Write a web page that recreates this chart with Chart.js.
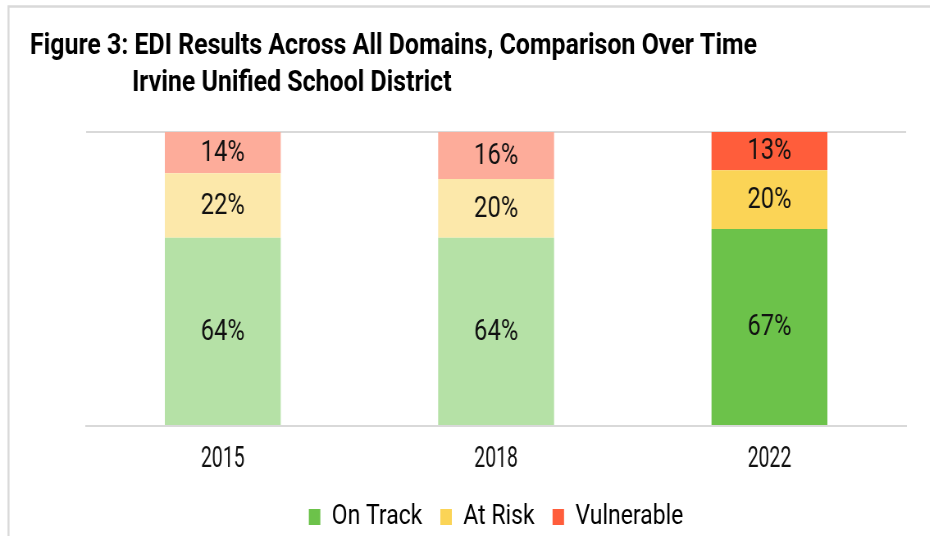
<!DOCTYPE html>
<html>
<head>
<meta charset="utf-8">
<script src="https://cdn.jsdelivr.net/npm/chart.js@4.4.1/dist/chart.umd.min.js"></script>
<style>
  html, body { margin: 0; padding: 0; background: #fff; overflow: hidden; }
  #wrap { width: 1134px; height: 536px; transform: scaleX(0.82); transform-origin: 0 0; }
</style>
</head>
<body>
<div id="wrap"><canvas id="myChart" width="1134" height="536"></canvas></div>
<script>
// squeeze factor, gives the condensed look of the original
const SX = 0.82;

const titleLines = [
    "Figure 3: EDI Results Across All Domains, Comparison Over Time",
    "Irvine Unified School District",
];
const categories = ["2015", "2018", "2022"];
const seriesNames = ["On Track", "At Risk", "Vulnerable"];
const onTrack = [64, 64, 67];
const atRisk = [22, 20, 20];
const vulnerable = [14, 16, 13];

// older years are drawn in paler tones
const greens = ["#b5e1a6", "#b5e1a6", "#6cc24a"];
const yellows = ["#fce8aa", "#fce8aa", "#fbd456"];
const reds = ["#fdac9a", "#fdac9a", "#ff5d3b"];

Chart.defaults.font.family = "Roboto";
Chart.defaults.color = "#000000";

const frameAndTitle = {
    id: "frameAndTitle",
    beforeDraw(chart) {
        const c = chart.ctx;
        const w = chart.width, h = chart.height;
        c.save();
        c.fillStyle = "#ffffff";
        c.fillRect(0, 0, w, h);
        c.strokeStyle = "#d9d9d9";
        c.lineWidth = 2.4;
        c.beginPath();
        c.moveTo(8.5 / SX, h);
        c.lineTo(8.5 / SX, 6.5);
        c.lineTo(w, 6.5);
        c.stroke();

        c.fillStyle = "#000000";
        c.font = "bold 29px Roboto";
        c.textBaseline = "alphabetic";
        const k = (727 / SX) / c.measureText(titleLines[0]).width;
        c.save();
        c.translate(30 / SX, 53.5);
        c.scale(k, 1);
        c.fillText(titleLines[0], 0, 0);
        c.restore();
        c.save();
        c.translate(132 / SX, 90.5);
        c.scale(k, 1);
        c.fillText(titleLines[1], 0, 0);
        c.restore();
        c.restore();
    },
};

const labelsPlugin = {
    id: "labelsPlugin",
    afterDatasetsDraw(chart) {
        const c = chart.ctx;
        c.save();
        c.fillStyle = "#111111";
        c.font = "29px Roboto";
        c.textAlign = "center";
        c.textBaseline = "middle";
        chart.data.datasets.forEach((ds, i) => {
            chart.getDatasetMeta(i).data.forEach((bar, j) => {
                const y = (bar.y + bar.base) / 2;
                c.fillText(ds.data[j] + "%", bar.x, y + 1);
            });
        });
        // category labels, narrower than the rest
        const xs = chart.scales.x;
        c.font = "30px Roboto";
        c.textBaseline = "alphabetic";
        categories.forEach((cat, i) => {
            c.save();
            c.translate(xs.getPixelForTick(i), 467);
            c.scale(0.79, 1);
            c.fillText(cat, 0, 0);
            c.restore();
        });
        c.restore();
    },
};

const ctx = document.getElementById("myChart").getContext("2d");

const data = {
    labels: categories,
    datasets: [
        { label: seriesNames[0], data: onTrack, backgroundColor: greens, legendColor: greens[2] },
        { label: seriesNames[1], data: atRisk, backgroundColor: yellows, legendColor: yellows[2] },
        { label: seriesNames[2], data: vulnerable, backgroundColor: reds, legendColor: reds[2] },
    ],
};

const config = {
    type: "bar",
    data: data,
    options: {
        responsive: false,
        animation: false,
        layout: { padding: { top: 132, left: 105, right: 29, bottom: -5 } },
        datasets: {
            bar: { barPercentage: 0.424, categoryPercentage: 1, borderWidth: 0 },
        },
        scales: {
            x: {
                stacked: true,
                grid: { display: false },
                border: { color: "#d9d9d9", width: 2 },
                ticks: { color: "rgba(0,0,0,0)", font: { size: 30, lineHeight: 1 }, padding: 8.5 },
            },
            y: {
                stacked: true,
                min: 0,
                max: 100,
                ticks: { display: false, stepSize: 100 },
                grid: { color: "#d9d9d9", lineWidth: 2, drawTicks: false },
                border: { display: false },
            },
        },
        plugins: {
            title: { display: false },
            tooltip: { enabled: false },
            legend: {
                position: "bottom",
                labels: {
                    font: { size: 28 },
                    boxWidth: 14,
                    boxHeight: 16,
                    padding: 22,
                    generateLabels(chart) {
                        return chart.data.datasets.map((ds, i) => ({
                            text: ds.label,
                            fillStyle: ds.legendColor,
                            strokeStyle: ds.legendColor,
                            lineWidth: 0,
                            fontColor: "#000000",
                            datasetIndex: i,
                        }));
                    },
                },
            },
        },
    },
    plugins: [frameAndTitle, labelsPlugin],
};

const myChart = new Chart(ctx, config);
</script>
</body>
</html>
